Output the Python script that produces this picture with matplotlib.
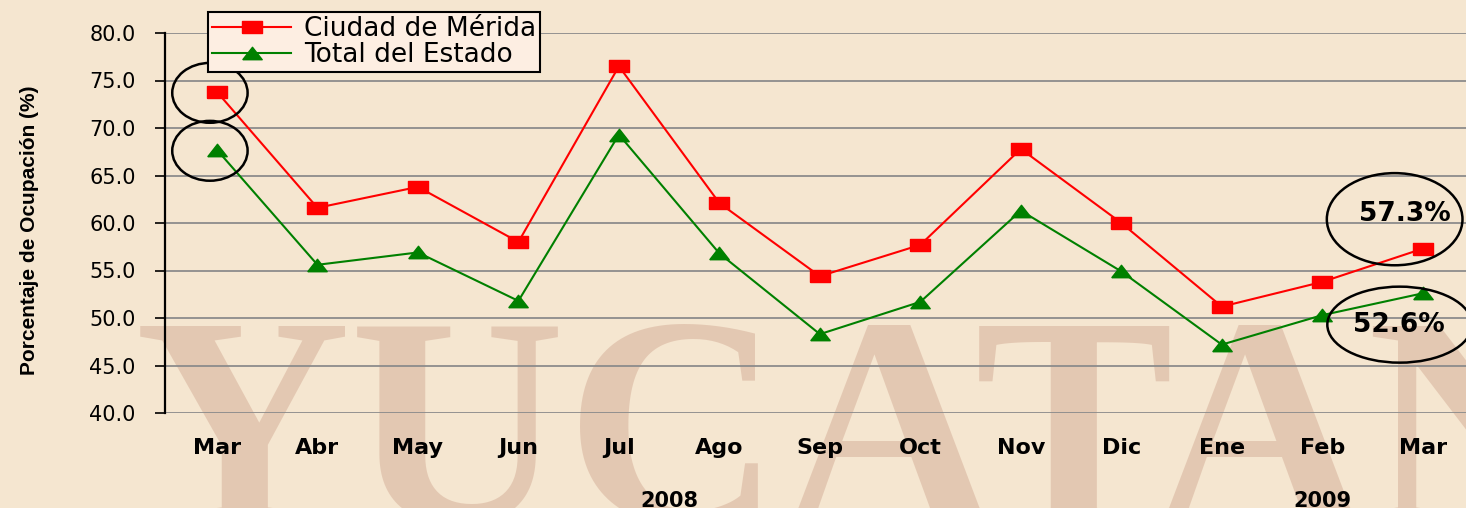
import matplotlib
matplotlib.use("Agg")
import matplotlib.pyplot as plt
from matplotlib.patches import Ellipse

# ---- data ----
months = ["Mar", "Abr", "May", "Jun", "Jul", "Ago", "Sep", "Oct", "Nov", "Dic", "Ene", "Feb", "Mar"]
years = ["2008", "2009"]
year_pos = [4.5, 11.0]
merida = [73.8, 61.6, 63.8, 58.0, 76.5, 62.1, 54.4, 57.7, 67.8, 60.0, 51.2, 53.8, 57.3]
estado = [67.7, 55.6, 56.9, 51.8, 69.3, 56.8, 48.3, 51.7, 61.3, 54.9, 47.2, 50.3, 52.6]
series_names = ["Ciudad de Mérida", "Total del Estado"]
yticks = [40.0, 45.0, 50.0, 55.0, 60.0, 65.0, 70.0, 75.0, 80.0]

BG = "#f5e6d0"
W, H = 1466, 508
fig = plt.figure(figsize=(W / 100, H / 100), dpi=100, facecolor=BG)

# decorative watermark (background)
fig.text(135 / W, -14 / H, "YUCATAN", fontsize=215, family=["Liberation Serif", "DejaVu Serif"],
         fontweight="bold", color="#c08a74", alpha=0.32, va="baseline", ha="left", zorder=0)

ax = fig.add_axes([165 / W, 95 / H, (W - 165) / W, 380 / H])
ax.set_zorder(2)
ax.set_facecolor("none")
x = list(range(len(months)))

sq = [(-0.5, -0.32), (0.5, -0.32), (0.5, 0.32), (-0.5, 0.32), (-0.5, -0.32)]
tri = [(-0.5, -0.32), (0.5, -0.32), (0.0, 0.32), (-0.5, -0.32)]

ax.plot(x, merida, color="#ff0000", lw=1.5, marker=sq, markersize=14,
        markerfacecolor="#ff0000", markeredgecolor="#ff0000", zorder=4, label=series_names[0])
ax.plot(x, estado, color="#008000", lw=1.5, marker=tri, markersize=14,
        markerfacecolor="#008000", markeredgecolor="#008000", zorder=4, label=series_names[1])

ax.set_xlim(-0.517, 12.43)
ax.set_ylim(40, 80)
ax.set_yticks(yticks)
ax.set_yticklabels([f"{v:.1f}" for v in yticks], fontsize=15)
ax.set_xticks(x)
ax.set_xticklabels(months, fontsize=16, fontweight="bold")
ax.tick_params(axis="x", length=0, pad=18)
ax.tick_params(axis="y", length=7, width=1.2, pad=14, direction="out")
ax.yaxis.grid(True, color="#8c8c8c", lw=1.3, zorder=1)
ax.set_axisbelow(True)
for s in ["top", "right", "bottom"]:
    ax.spines[s].set_visible(False)
ax.spines["left"].set_color("black")
ax.spines["left"].set_linewidth(1.6)

# year labels
for yr, pos in zip(years, year_pos):
    ax.annotate(yr, xy=(pos, 0), xycoords=("data", "axes fraction"), xytext=(0, -78),
                textcoords="offset pixels", ha="center", va="top", fontsize=15, fontweight="bold",
                annotation_clip=False)

# circles around first points
for v in (merida[0], estado[0]):
    ax.add_patch(Ellipse((x[0] - 0.07, v - 0.1), 0.75, 6.3, fill=False, ec="black", lw=1.8, zorder=5))

# end labels with ellipses
ax.add_patch(Ellipse((x[-1] - 0.28, merida[-1] + 3.1), 1.35, 9.7, fill=False, ec="black", lw=1.8,
                     zorder=5, clip_on=False))
ax.add_patch(Ellipse((x[-1] - 0.23, estado[-1] - 3.3), 1.44, 8.0, fill=False, ec="black", lw=1.8,
                     zorder=5, clip_on=False))
ax.text(x[-1] - 0.18, merida[-1] + 3.6, f"{merida[-1]:.1f}%", fontsize=19, fontweight="bold",
        ha="center", va="center", zorder=6)
ax.text(x[-1] - 0.24, estado[-1] - 3.3, f"{estado[-1]:.1f}%", fontsize=19, fontweight="bold",
        ha="center", va="center", zorder=6)

# y label
fig.text(30 / W, 1 - 230 / H, "Porcentaje de Ocupación (%)", rotation=90, ha="center", va="center",
         fontsize=15, fontweight="bold", family=["Liberation Sans", "DejaVu Sans"], zorder=3)

leg = fig.legend(loc="upper left", bbox_to_anchor=(208 / W, 1 - 12 / H), fontsize=19,
                 frameon=True, fancybox=False, edgecolor="black", facecolor="#fdeee2",
                 framealpha=1, handlelength=3.0, handletextpad=0.5, labelspacing=0.0,
                 borderpad=0.15, borderaxespad=0)
leg.set_zorder(5)
leg.get_frame().set_linewidth(1.5)

fig.savefig("out.png", dpi=100, facecolor=BG)
